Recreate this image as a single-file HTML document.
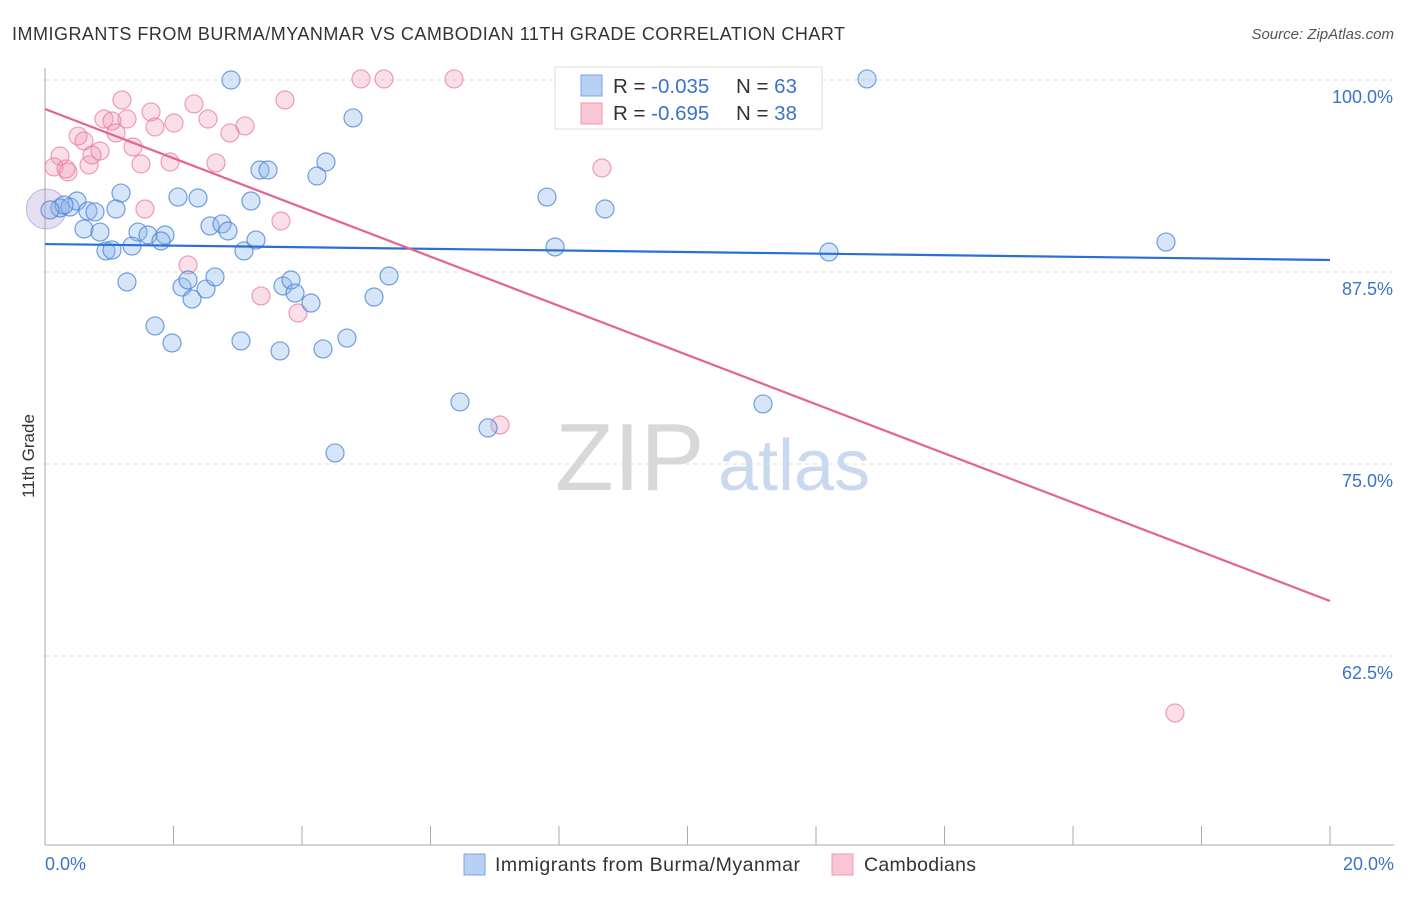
<!DOCTYPE html>
<html><head><meta charset="utf-8">
<style>
body{margin:0;background:#fff;font-family:"Liberation Sans",sans-serif;}
svg text{font-family:"Liberation Sans",sans-serif;}
</style></head>
<body>
<svg width="1406" height="892" viewBox="0 0 1406 892">
<text x="12" y="40" font-size="18" fill="#333" textLength="833" lengthAdjust="spacing">IMMIGRANTS FROM BURMA/MYANMAR VS CAMBODIAN 11TH GRADE CORRELATION CHART</text>
<text x="1394" y="39" font-size="15" fill="#555" font-style="italic" text-anchor="end">Source: ZipAtlas.com</text>
<g>
<text x="555" y="490" font-size="96" fill="#d8d8d8" font-family="Liberation Serif,serif">ZIP</text>
<text x="718" y="490" font-size="72" fill="#c9d9f0">atlas</text>
</g>
<g id="grid"></g>
<g id="axes"></g>
<g id="marks"></g>
<text x="34" y="456" font-size="17" fill="#333" transform="rotate(-90 34 456)" text-anchor="middle">11th Grade</text>
<text x="45" y="870" font-size="18" fill="#3b73c9">0.0%</text>
<text x="1394" y="870" font-size="18" fill="#3b73c9" text-anchor="end">20.0%</text>
<g>
<rect x="555" y="67" width="267" height="62" fill="#fff" stroke="#ddd"/>
<rect x="581" y="75" width="21" height="21" fill="#b7d0f3" stroke="#7aa5e0"/>
<rect x="581" y="103" width="21" height="21" fill="#f8c6d4" stroke="#eb9ab2"/>
<text x="613" y="93" font-size="20.5" fill="#333">R = <tspan fill="#3b73c9">-0.035</tspan></text>
<text x="736" y="93" font-size="20.5" fill="#333">N = <tspan fill="#3b73c9">63</tspan></text>
<text x="613" y="120" font-size="20.5" fill="#333">R = <tspan fill="#3b73c9">-0.695</tspan></text>
<text x="736" y="120" font-size="20.5" fill="#333">N = <tspan fill="#3b73c9">38</tspan></text>
</g>
<g>
<rect x="464" y="854" width="21" height="21" fill="#b7d0f3" stroke="#7aa5e0"/>
<text x="495" y="871" font-size="19.5" fill="#333" textLength="305" lengthAdjust="spacing">Immigrants from Burma/Myanmar</text>
<rect x="832" y="854" width="21" height="21" fill="#f8c6d4" stroke="#eb9ab2"/>
<text x="864" y="871" font-size="19.5" fill="#333" textLength="112" lengthAdjust="spacing">Cambodians</text>
</g>
</svg>
<script>
const blueX=[2.895,4.794,4.373,4.233,3.346,3.471,1.183,2.070,2.381,3.206,1.105,0.233,0.389,0.498,0.669,0.778,0.296,0.078,0.607,0.856,1.447,1.603,1.868,2.568,2.755,2.848,1.805,1.354,0.949,1.043,3.097,3.284,1.276,2.132,2.226,2.506,2.646,2.288,3.704,3.829,3.891,4.140,5.121,5.354,1.712,1.977,3.051,3.658,4.327,4.700,6.459,6.895,4.514,7.813,8.716,7.938,12.202,17.447,11.175,12.794,9.945];
const blueY=[100,97.53,94.66,93.75,94.14,94.14,92.64,92.38,92.32,92.12,91.60,91.67,91.73,92.12,91.47,91.41,91.86,91.54,90.30,90.10,90.10,89.91,89.91,90.50,90.63,90.17,89.52,89.19,88.87,88.93,88.87,89.58,86.85,86.52,86.98,86.39,87.18,85.74,86.59,86.98,86.13,85.48,85.87,87.24,83.99,82.88,83.01,82.36,82.49,83.20,79.04,77.35,75.72,92.38,91.60,89.13,88.80,89.45,78.91,100.07,100];
const pinkX=[1.198,1.650,2.319,3.735,0.918,1.043,1.276,2.008,1.712,2.537,3.113,2.879,0.514,0.607,1.105,1.370,0.856,0.731,0.233,0.685,1.494,1.946,2.661,0.140,0.358,0.327,1.556,3.673,2.226,3.362,3.938,4.918,5.276,6.366,8.669,7.082,17.587];
const pinkY=[98.70,97.92,98.44,98.70,97.46,97.33,97.46,97.20,96.94,97.46,97.01,96.55,96.35,96.03,96.55,95.64,95.38,95.12,95.05,94.47,94.53,94.66,94.60,94.34,94.01,94.21,91.60,90.82,87.96,85.94,84.83,100.07,100.07,100.07,94.27,77.54,58.79];
const blueTrend=[89.32,88.28];
const pinkTrend=[98.11,66.08];
const yTicks=[100,87.5,75,62.5];
const yTickLabels=["100.0%","87.5%","75.0%","62.5%"];
const xTicks=[0,2,4,6,8,10,12,14,16,18,20];

const NS="http://www.w3.org/2000/svg";
function xs(v){return 45+v/20*1285;}
function ys(v){return 80+(100-v)*15.36;}
function mk(tag,attrs,parent){const e=document.createElementNS(NS,tag);for(const k in attrs)e.setAttribute(k,attrs[k]);parent.appendChild(e);return e;}
const grid=document.getElementById('grid'),axes=document.getElementById('axes'),marks=document.getElementById('marks');
yTicks.forEach((t,i)=>{
  const l=mk('line',{x1:45,x2:1394,y1:ys(t),y2:ys(t),stroke:'#ddd','stroke-dasharray':'4,4'},grid);
  
  
  const tx=mk('text',{x:1393,y:ys(t)+23,'font-size':18,fill:'#3b73c9','text-anchor':'end'},grid);
  tx.textContent=yTickLabels[i];
  
  
});
const ax=mk('line',{x1:45,x2:45,y1:68,y2:845,stroke:'#aaa'},axes);


const bx=mk('line',{x1:45,x2:1394,y1:845,y2:845,stroke:'#aaa'},axes);


xTicks.forEach(t=>{
  const l=mk('line',{x1:xs(t),x2:xs(t),y1:826,y2:845,stroke:'#aaa'},axes);
  
  
});
const big=mk('circle',{cx:xs(0.02),cy:ys(91.6),r:20,fill:'rgba(170,150,210,0.3)',stroke:'rgba(150,120,200,0.5)'},marks);


pinkX.forEach((x,i)=>{
  const c=mk('circle',{cx:xs(x),cy:ys(pinkY[i]),r:9,fill:'rgba(240,150,178,0.3)',stroke:'rgba(232,120,155,0.7)','stroke-width':1.2},marks);
  
  
});
blueX.forEach((x,i)=>{
  const c=mk('circle',{cx:xs(x),cy:ys(blueY[i]),r:9,fill:'rgba(140,180,235,0.35)',stroke:'rgba(70,130,215,0.75)','stroke-width':1.2},marks);
  
  
});
const bl=mk('line',{x1:xs(0),y1:ys(blueTrend[0]),x2:xs(20),y2:ys(blueTrend[1]),stroke:'#2a6fd6','stroke-width':2.2},marks);


const pl=mk('line',{x1:xs(0),y1:ys(pinkTrend[0]),x2:xs(20),y2:ys(pinkTrend[1]),stroke:'#e3648f','stroke-width':2.2},marks);


</script>
</body></html>
